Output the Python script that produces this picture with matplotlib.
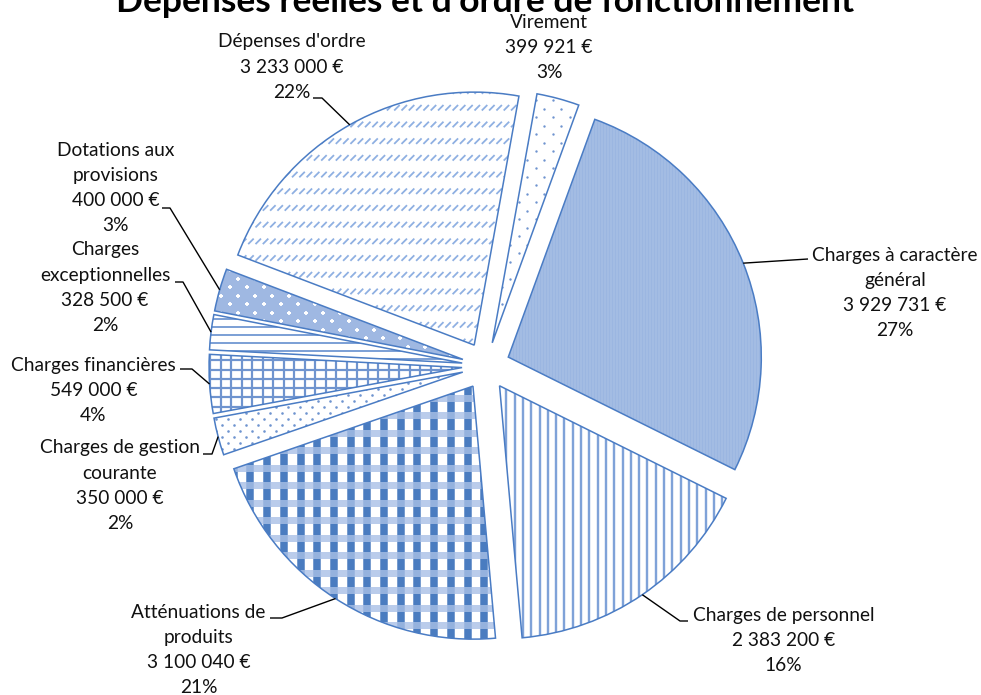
import numpy as np
import matplotlib
matplotlib.use("Agg")
import matplotlib.pyplot as plt
from matplotlib.patches import Wedge
from matplotlib.collections import LineCollection

# ---------------- data ----------------
categories = ["Charges à caractère général", "Charges de personnel",
              "Atténuations de produits", "Charges de gestion courante",
              "Charges financières", "Charges exceptionnelles",
              "Dotations aux provisions", "Dépenses d'ordre", "Virement"]
label_lines = [["Charges à caractère", "général"], ["Charges de personnel"],
               ["Atténuations de", "produits"], ["Charges de gestion", "courante"],
               ["Charges financières"], ["Charges", "exceptionnelles"],
               ["Dotations aux", "provisions"], ["Dépenses d'ordre"], ["Virement"]]
values = [3929731, 2383200, 3100040, 350000, 549000, 328500, 400000, 3233000, 399921]
title_text = "Dépenses réelles et d'ordre de fonctionnement"

# ---------------- layout (pixels, y from top) ----------------
W, H = 981, 695
CX, CY, R, EXP = 486, H - 366, 253, 24
label_pos = [(895, 255), (783.5, 615), (198.5, 612), (120, 448), (93.5, 365),
             (105, 250), (115.5, 150), (292, 42), (549, 22)]
leaders = [(808, 259, None), (688, 621, 680), (270, 618, 282), (203, 454, 212),
           (180, 369, 192), (175, 282, 183), (162, 208, 170), (313, 98, 322), None]
LS = 25.3
EDGE = "#4a7cc4"

plt.rcParams['font.family'] = ['Lato', 'DejaVu Sans']
fig = plt.figure(figsize=(W / 100, H / 100), dpi=100)
ax = fig.add_axes([0, 0, 1, 1])

wedges, _ = ax.pie(values, startangle=70, counterclock=False, radius=R,
                   center=(CX, CY), explode=[EXP] * len(values),
                   wedgeprops=dict(edgecolor='none', linewidth=0), frame=True)

PT = 0.72  # points per pixel at dpi 100


def bbox(w):
    cx, cy = w.center
    return cx - w.r - 20, cx + w.r + 20, cy - w.r - 20, cy + w.r + 20


def add_lines(w, segs, color, lw_px, alpha=1.0):
    lc = LineCollection(segs, colors=color, linewidths=lw_px * PT, zorder=3,
                        alpha=alpha, capstyle='butt')
    ax.add_collection(lc, autolim=False)
    lc.set_clip_path(w)


def vlines(w, sp, color, lw_px, alpha=1.0):
    x0, x1, y0, y1 = bbox(w)
    xs = np.arange(np.floor(x0 / sp) * sp, x1, sp)
    add_lines(w, [[(x, y0), (x, y1)] for x in xs], color, lw_px, alpha)


def hlines(w, sp, color, lw_px, alpha=1.0):
    x0, x1, y0, y1 = bbox(w)
    ys = np.arange(np.floor(y0 / sp) * sp, y1, sp)
    add_lines(w, [[(x0, y), (x1, y)] for y in ys], color, lw_px, alpha)


def dots(w, px, py, color, size_px, marker='o', mew=0):
    x0, x1, y0, y1 = bbox(w)
    xs_all, ys_all = [], []
    for i, y in enumerate(np.arange(np.floor(y0 / py) * py, y1, py)):
        off = (i % 2) * px / 2
        xs = np.arange(np.floor(x0 / px) * px + off, x1, px)
        xs_all.extend(xs)
        ys_all.extend([y] * len(xs))
    if marker in ('+', 'x'):
        sc = ax.scatter(xs_all, ys_all, s=(size_px * PT) ** 2, c=color,
                        marker=marker, linewidths=mew, zorder=3)
    else:
        sc = ax.scatter(xs_all, ys_all, s=(size_px * PT) ** 2, c=color,
                        marker=marker, linewidths=0, zorder=3)
    sc.set_clip_path(w)


def slashes(w, px, py, dx, color, lw_px):
    x0, x1, y0, y1 = bbox(w)
    segs = []
    for y in np.arange(np.floor(y0 / py) * py, y1, py):
        for x in np.arange(np.floor(x0 / px) * px, x1, px):
            segs.append([(x, y), (x + dx, y + dx)])
    add_lines(w, segs, color, lw_px)


fills = ['#a3bce3', 'white', 'white', 'white', 'white', 'white', '#9fb8e2',
         'white', 'white']
for w, fc in zip(wedges, fills):
    w.set_facecolor(fc)

# patterns per slice
vlines(wedges[0], 3.0, '#8fadde', 0.8, alpha=0.5)
vlines(wedges[1], 8.3, '#7fa2d8', 2.4)
vlines(wedges[2], 16.7, '#4a7cc0', 7.5)
hlines(wedges[2], 17.5, '#a9c0e6', 7.0, alpha=0.8)
dots(wedges[3], 12, 6, '#6f94cf', 2.6)
vlines(wedges[4], 10.5, '#6f94cf', 2.2)
hlines(wedges[4], 9.3, '#6f94cf', 2.2)
hlines(wedges[5], 8.0, '#7ea1d6', 2.0)
dots(wedges[6], 17, 8.5, 'white', 5, marker='+', mew=1.3)
slashes(wedges[7], 7.3, 16.7, 5.5, '#8fb0e2', 1.8)
dots(wedges[8], 17, 8.5, '#6f94cf', 2.4)

for w in wedges:
    ax.add_patch(Wedge(w.center, w.r, w.theta1, w.theta2, fill=False,
                       edgecolor=EDGE, linewidth=1.1, zorder=4))

# labels
total = sum(values)
for i, (w, v) in enumerate(zip(wedges, values)):
    money = f"{v:,}".replace(",", " ") + " €"
    pct = f"{round(100 * v / total)}%"
    lines = label_lines[i] + [money, pct]
    x, y = label_pos[i]
    for k, line in enumerate(lines):
        ax.text(x, H - (y + k * LS), line, ha='center', va='center',
                fontsize=13.8, color='#111111', zorder=6)
    if leaders[i] is not None:
        sx, sy, ex = leaders[i]
        mid = np.deg2rad((w.theta1 + w.theta2) / 2)
        px = w.center[0] + w.r * np.cos(mid)
        py = w.center[1] + w.r * np.sin(mid)
        xs = [sx] + ([ex] if ex is not None else []) + [px]
        ys = [H - sy] + ([H - sy] if ex is not None else []) + [py]
        ax.plot(xs, ys, color='black', lw=1.0, zorder=5, solid_capstyle='butt')

ax.text(485, H - 12, title_text, ha='center', va='baseline', fontsize=25.5,
        fontweight='bold', color='#000000', zorder=6)

ax.set_xlim(0, W)
ax.set_ylim(0, H)
ax.axis('off')
fig.savefig("out.png", dpi=100)
